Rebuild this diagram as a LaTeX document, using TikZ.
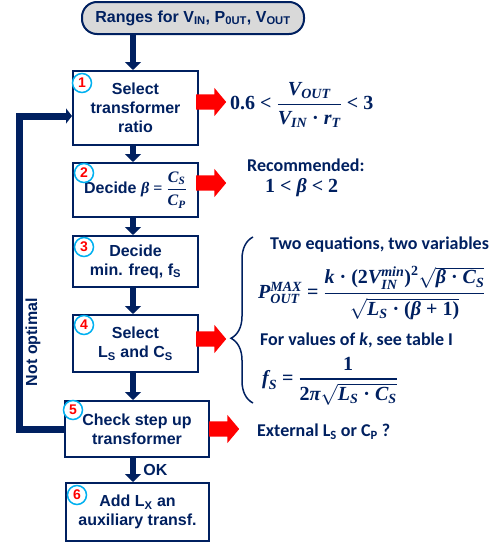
\documentclass[tikz,border=0pt]{standalone}
\usepackage{amsmath}
\usepackage{fontspec}
\newfontfamily\arialfont{Liberation Sans}
\newfontfamily\califont{Carlito}
\newfontfamily\eqfont{Liberation Serif}
\usetikzlibrary{shapes.arrows,positioning,arrows.meta,decorations.pathreplacing}
\definecolor{navy}{RGB}{0,32,96}
\definecolor{stepcyan}{RGB}{0,176,240}
\definecolor{rangegray}{RGB}{217,217,217}
% bold letters and signs for the formulas
\newcommand{\mi}[1]{\text{\eqfont\bfseries\itshape #1}}
\newcommand{\mr}[1]{\text{\eqfont\bfseries #1}}
\newcommand{\bfrac}[2]{\genfrac{}{}{1.3pt}{0}{#1}{#2}}

\begin{document}
\begin{tikzpicture}[x=1pt, y=-1pt,
  box/.style={rectangle, draw=navy, line width=2pt, fill=white, align=center, text=navy,
    font=\arialfont\bfseries\fontsize{16}{19}\selectfont, inner sep=2pt},
  num/.style={circle, draw=stepcyan, line width=1.5pt, fill=white, text=red, inner sep=0pt,
    minimum size=19pt, font=\arialfont\bfseries\fontsize{14}{14}\selectfont},
  flow/.style={-{Triangle[width=16pt,length=8pt]}, line width=6pt, draw=navy},
  back/.style={-{Triangle[width=15pt,length=6pt]}, line width=7pt, draw=navy, line join=miter},
  blockarrow/.style={single arrow, fill=red, inner sep=7.5pt, single arrow head extend=6.5pt,
    single arrow tip angle=100, minimum height=30pt, anchor=tail},
  note/.style={text=navy, anchor=west, inner sep=0pt, font=\califont\bfseries\fontsize{18}{21}\selectfont},
  eq/.style={text=navy, anchor=west, inner sep=0pt, font=\fontsize{20}{23}\selectfont},
]
\useasboundingbox (0,0) rectangle (503,546);

% === FLOW OF THE DESIGN STEPS ===
\node[box, fill=rangegray, rounded corners=15pt, minimum width=222pt, minimum height=32pt] (range) at (193, 18) {Ranges for V\textsubscript{IN}, P\textsubscript{0UT}, V\textsubscript{OUT}};

\node[box, minimum width=125pt, minimum height=74pt] (ratio) at (135.5, 108) {Select\\transformer\\ratio};
\node[box, minimum width=125pt, minimum height=54pt] (beta) at (135.5, 190) {Decide $\mi{β}\mr{ = }\bfrac{\mi{C}_{\mi{S}}}{\mi{C}_{\mi{P}}}$};
\node[box, minimum width=125pt, minimum height=51pt] (freq) at (135.5, 261.5) {Decide\\min. freq, f\textsubscript{S}};
\node[box, minimum width=125pt, minimum height=57pt] (lscs) at (135.5, 343.5) {Select\\L\textsubscript{S} and C\textsubscript{S}};
\node[box, minimum width=144pt, minimum height=56pt] (check) at (137, 429) {Check step up\\transformer};
\node[box, minimum width=143pt, minimum height=58pt] (aux) at (137.5, 512) {Add L\textsubscript{X} an\\auxiliary transf.};

% step numbers
\node[num] (n1) at (82, 83) {1};
\node[num] (n2) at (84, 173) {2};
\node[num] (n3) at (84, 247) {3};
\node[num] (n4) at (84, 325) {4};
\node[num] (n5) at (73, 410) {5};
\node[num] (n6) at (77, 495) {6};

\coordinate (ax) at (133, 0);
\coordinate (lp) at (19.5, 0);

\draw[flow] (range.south -| ax) -- (ratio.north -| ax);
\draw[flow] (ratio.south -| ax) -- (beta.north -| ax);
\draw[flow] (beta.south -| ax) -- (freq.north -| ax);
\draw[flow] (freq.south -| ax) -- (lscs.north -| ax);
\draw[flow] (lscs.south -| ax) -- (check.north -| ax);
\draw[flow] (check.south -| ax) -- node[right=4pt, text=navy, font=\arialfont\bfseries\fontsize{16}{19}\selectfont] (ok) {OK} (aux.north -| ax);

% loop back
\draw[back] (check.west) -- (check.west -| lp) |- ([yshift=-8pt]ratio.west);
\node[text=navy, rotate=90, font=\arialfont\bfseries\fontsize{16}{19}\selectfont] (notopt) at (33, 342) {Not optimal};

% red arrows and results
\node[blockarrow] (r1) at (196, 102) {};
\node[blockarrow] (r2) at (196, 183) {};
\node[blockarrow] (r4) at (196, 339) {};
\node[blockarrow] (r5) at (209, 429) {};

\node[eq] (ratioeq) at (230, 105) {$\mr{0.6 < }\bfrac{\mi{V}_{\mi{OUT}}}{\mi{V}_{\mi{IN}}\mr{ · }\mi{r}_{\mi{T}}}\mr{ < 3}$};
\node[note] (rec) at (247, 165) {Recommended:};
\node[eq] (betaeq) at (265, 188) {$\mr{1 < }\mi{β}\mr{ < 2}$};

\coordinate (bb) at (253, 403);
\coordinate (bt) at (253, 237);
\draw[navy, line width=1.5pt, decorate, decoration={brace, amplitude=22pt, aspect=0.39}] (bb) -- (bt);

\node[note] (twoeq) at (270, 245) {Two equations, two variables};
\node[eq] (peq) at (258, 293) {$\mi{P}_{\mi{OUT}}^{\mi{MAX}}\mr{ = }\bfrac{\mi{k}\mr{ · }\mr{(}\mr{2}\mi{V}_{\mi{IN}}^{\mi{min}}\mr{)}^{\mr{2}}\sqrt{\mi{β}\mr{ · }\mi{C}_{\mi{S}}}}{\sqrt{\mi{L}_{\mi{S}}\mr{ · (}\mi{β}\mr{ + 1)}}}$};
\node[note] (kval) at (260, 340) {For values of \textit{k}, see table I};
\node[eq] (feq) at (262, 381) {$\mi{f}_{\mi{S}}\mr{ = }\bfrac{\mr{1}}{\mr{2}\mi{π}\sqrt{\mi{L}_{\mi{S}}\mr{ · }\mi{C}_{\mi{S}}}}$};

\node[note] (ext) at (257, 432) {External L\textsubscript{S} or C\textsubscript{P} ?};
\end{tikzpicture}
\end{document}
